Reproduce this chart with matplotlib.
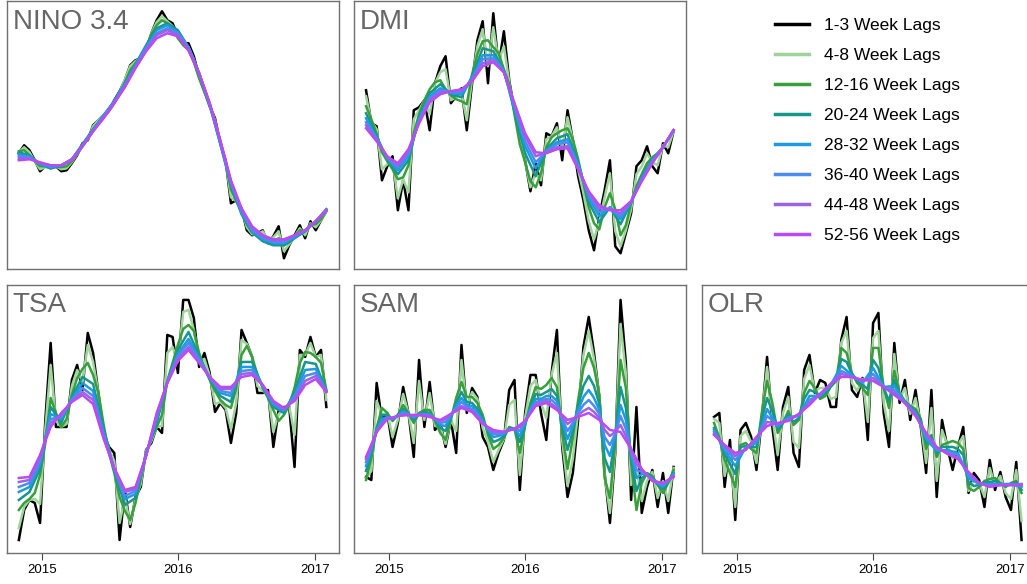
import matplotlib.pyplot as plt
from matplotlib.lines import Line2D
import pandas as pd

plt.rcParams['font.family'] = ['Liberation Sans', 'DejaVu Sans']

lag_labels = ['1-3 Week Lags', '4-8 Week Lags', '12-16 Week Lags', '20-24 Week Lags',
              '28-32 Week Lags', '36-40 Week Lags', '44-48 Week Lags', '52-56 Week Lags']
lag_colors = ['#000000', '#9fd49b', '#36a03a', '#17968f',
              '#1c9be3', '#4a8cef', '#9c63e3', '#b84bf6']

first_week = '2014-11-01'
last_week = '2017-01-31'
year_ticks = ['2015-01-01', '2016-01-01', '2017-01-01']
year_labels = ['2015', '2016', '2017']

# relative index values (the figure prints no y scale)
# biweekly lists have 59 values, 4-weekly lists 30 values

# NINO 3.4
nino_w1 = [116,124,119,109,98,103,101,103,98,99,106,114,126,129,144,149,154,159,169,178,189,204,209,211,219,236,249,258,249,246,233,226,226,213,193,179,163,151,126,109,66,69,61,39,34,36,39,26,33,43,11,24,34,44,31,48,39,49,58]
nino_w4 = [117,122,117,108,100,102,102,103,100,101,107,115,125,130,143,149,154,159,168,177,190,203,208,212,221,236,247,253,248,243,232,225,222,210,192,178,163,149,127,108,72,68,60,42,35,35,38,29,32,38,18,25,33,41,34,46,42,49,58]
nino_w12 = [118,119,114,108,103,103,103,103,102,103,108,115,123,130,140,146,152,158,166,175,187,199,206,213,222,235,244,249,246,240,231,224,219,207,191,177,163,148,128,107,80,68,58,45,37,33,32,29,28,31,24,27,33,39,38,45,45,50,59]
nino_w20 = [117,114,105,101,103,110,125,140,154,168,186,205,224,241,246,239,222,196,164,125,84,55,37,28,24,24,31,38,48,60]
nino_w28 = [115,113,105,102,104,110,124,139,154,168,185,204,222,239,244,237,222,196,165,126,86,57,38,30,26,26,32,39,48,60]
nino_w36 = [113,112,106,103,104,110,123,138,153,167,184,203,221,236,241,236,221,196,165,127,87,58,40,31,27,27,33,39,48,59]
nino_w44 = [111,111,106,104,104,110,123,138,152,167,183,202,219,234,239,234,220,196,166,128,88,60,41,33,29,29,34,39,48,59]
nino_w52 = [109,110,107,104,104,109,123,138,151,166,182,201,218,231,236,233,219,196,166,129,89,61,43,34,30,30,34,39,48,59]

# DMI
dmi_w1 = [179,146,143,89,103,113,59,89,59,159,162,169,139,186,203,213,166,173,181,139,186,229,248,186,256,203,238,189,159,136,109,78,106,84,136,133,146,109,159,129,93,69,39,19,53,79,109,23,16,36,56,103,109,123,103,96,126,116,138]
dmi_w4 = [173,148,140,100,105,108,71,90,77,150,159,169,155,186,197,200,169,172,176,149,190,223,240,203,242,208,223,187,157,132,108,82,96,89,130,133,142,121,152,129,100,76,48,30,48,72,96,38,23,39,60,95,103,116,107,104,124,122,138]
dmi_w12 = [163,150,135,117,108,100,90,92,104,136,155,169,180,187,189,180,174,170,168,165,195,215,228,229,222,216,200,185,155,125,107,88,82,96,122,132,136,139,141,130,110,86,62,46,40,62,76,60,34,44,66,83,95,106,112,116,122,130,139]
dmi_w20 = [156,133,110,95,109,152,176,185,175,172,193,221,218,199,158,116,93,120,131,135,107,67,47,62,45,67,93,110,122,139]
dmi_w28 = [151,131,111,99,113,150,173,181,176,175,191,214,214,198,161,123,101,119,127,130,105,71,53,62,50,67,91,109,122,139]
dmi_w36 = [147,130,112,102,116,149,171,179,177,177,190,210,211,198,163,128,107,118,125,127,103,74,57,61,53,67,90,108,122,139]
dmi_w44 = [144,129,112,104,118,147,169,177,178,179,189,206,209,197,165,133,113,117,122,123,101,76,61,60,56,68,89,107,122,139]
dmi_w52 = [141,128,113,106,120,146,167,175,178,180,188,203,207,197,166,136,117,116,120,121,100,78,64,59,59,68,88,106,122,139]

# TSA
tsa_w1 = [13,43,53,50,30,133,210,126,126,126,173,188,163,220,200,160,120,106,100,13,63,26,56,66,103,110,126,120,218,216,180,253,253,235,186,200,180,141,150,143,110,140,223,210,196,160,160,163,106,143,146,146,86,203,196,216,196,203,146]
tsa_w4 = [25,46,53,54,49,124,188,132,126,129,167,183,171,208,191,160,123,104,92,30,55,29,54,69,102,112,126,127,200,206,191,241,243,223,192,194,177,149,151,145,124,150,213,209,196,167,162,160,121,139,143,147,118,198,198,210,196,198,153]
tsa_w12 = [43,50,54,60,78,110,155,140,126,134,158,175,184,190,178,160,128,100,80,56,42,33,50,74,100,115,126,138,172,190,208,224,228,222,200,185,173,162,153,148,145,165,198,207,196,178,165,155,143,132,138,148,165,190,201,200,196,190,163]
tsa_w20 = [53,61,84,146,130,156,176,169,124,82,48,55,99,130,171,203,221,197,174,157,151,191,191,166,146,140,161,191,189,162]
tsa_w28 = [61,66,89,139,134,154,170,162,120,83,54,59,98,134,171,199,214,195,175,160,157,186,186,167,148,142,158,183,184,162]
tsa_w36 = [66,70,92,134,136,153,165,157,118,84,57,62,98,136,171,197,210,193,175,162,160,182,183,167,150,143,156,177,180,162]
tsa_w44 = [71,73,96,130,138,152,161,153,116,84,61,64,97,138,170,194,206,191,176,164,164,179,180,168,151,144,154,172,177,161]
tsa_w52 = [75,76,98,126,140,151,158,149,114,85,63,66,97,140,170,192,203,190,176,166,166,176,178,168,152,145,152,168,174,161]

# SAM
sam_w1 = [76,73,170,133,140,106,130,166,140,96,193,126,171,123,130,106,133,100,208,140,165,156,116,106,83,100,113,163,173,63,140,178,178,140,113,180,223,106,56,80,133,206,236,200,156,80,30,100,253,190,53,146,40,66,83,46,80,40,86]
sam_w4 = [75,82,152,138,140,116,133,159,140,110,172,133,160,127,126,109,133,122,193,146,161,154,125,111,91,103,114,148,153,78,135,167,173,150,135,178,200,112,67,94,141,198,222,194,157,78,40,104,229,180,68,85,52,72,81,55,72,52,85]
sam_w12 = [73,95,125,145,140,132,138,148,140,130,140,143,143,132,120,113,133,155,171,156,156,150,138,118,104,108,115,126,124,100,127,150,166,164,168,175,166,120,84,115,153,185,200,185,158,75,55,110,193,165,90,43,70,80,77,68,60,70,83]
sam_w20 = [82,100,124,138,138,133,138,144,139,133,139,141,140,133,125,122,135,150,161,151,150,144,135,121,111,113,117,125,124,111,129,146,159,158,161,164,157,127,103,122,147,167,177,167,149,95,81,115,166,145,95,62,75,79,75,69,64,71,80]
sam_w28 = [87,103,123,134,136,134,137,142,139,135,139,139,139,134,128,127,137,147,155,148,147,141,132,123,116,117,119,124,124,117,130,144,154,154,157,157,152,131,114,127,143,156,163,155,143,108,97,117,148,133,99,75,79,79,74,70,66,72,79]
sam_w36 = [91,106,122,131,135,135,137,140,138,136,138,138,138,134,130,131,138,145,151,146,144,138,131,124,119,119,120,123,124,122,131,142,151,152,154,153,148,134,122,130,140,148,153,147,139,116,108,119,137,124,101,83,81,78,73,70,68,72,78]
sam_w44 = [94,107,121,129,135,135,137,138,138,137,138,138,137,134,132,134,139,143,147,144,142,136,130,125,121,121,121,123,124,126,132,140,149,150,152,149,145,136,129,133,138,142,145,141,135,123,117,121,128,117,103,89,83,78,73,71,69,73,77]
sam_w52 = [96,121,134,137,138,138,136,133,139,145,141,129,123,121,124,132,147,150,143,133,136,140,133,123,121,104,84,72,70,76]

# OLR
olr_w1 = [136,140,66,113,33,123,130,116,83,133,196,126,83,146,166,100,86,183,198,160,173,170,146,146,213,236,163,156,175,113,230,240,140,106,210,150,173,133,163,126,80,163,56,133,106,83,106,126,60,80,73,46,93,63,81,56,43,91,13]
olr_w4 = [134,130,77,100,46,117,122,111,90,136,186,136,98,140,156,111,105,174,188,162,165,165,154,156,210,222,170,162,174,131,215,222,150,122,199,154,165,139,155,129,90,145,72,123,108,95,108,117,62,73,70,56,85,68,77,60,54,83,32]
olr_w12 = [130,115,93,80,66,108,110,104,100,140,172,150,120,130,142,128,133,160,172,165,154,157,166,172,205,200,180,170,165,158,205,205,165,145,182,160,152,147,144,134,104,118,96,108,110,112,110,104,65,62,66,72,74,75,70,66,70,72,60]
olr_w20 = [125,114,99,89,79,106,107,106,106,133,155,142,124,130,138,131,135,154,163,161,156,160,167,172,194,191,179,172,168,164,193,185,165,152,173,158,151,146,141,132,110,116,100,106,106,106,104,98,71,67,68,71,71,72,69,67,69,71,63]
olr_w28 = [123,102,87,106,110,144,126,136,137,157,157,168,187,178,170,185,166,167,151,140,114,102,103,100,75,69,69,69,69,66]
olr_w36 = [121,105,93,105,113,137,128,134,138,153,158,168,182,177,171,179,166,163,150,139,117,104,101,98,78,69,68,68,68,67]
olr_w44 = [119,107,97,104,115,131,129,133,139,150,159,169,179,176,172,175,166,160,150,138,119,105,100,95,80,70,67,68,68,68]
olr_w52 = [118,108,100,103,116,127,130,132,139,148,159,169,176,176,173,172,166,158,150,137,120,106,99,94,81,70,66,68,68,69]

panels = [
    ('NINO 3.4', [nino_w1, nino_w4, nino_w12, nino_w20, nino_w28, nino_w36, nino_w44, nino_w52]),
    ('DMI', [dmi_w1, dmi_w4, dmi_w12, dmi_w20, dmi_w28, dmi_w36, dmi_w44, dmi_w52]),
    ('TSA', [tsa_w1, tsa_w4, tsa_w12, tsa_w20, tsa_w28, tsa_w36, tsa_w44, tsa_w52]),
    ('SAM', [sam_w1, sam_w4, sam_w12, sam_w20, sam_w28, sam_w36, sam_w44, sam_w52]),
    ('OLR', [olr_w1, olr_w4, olr_w12, olr_w20, olr_w28, olr_w36, olr_w44, olr_w52]),
]

# panel boxes: left edge in pixels, bottom as figure fraction
W, H = 1027, 584
boxes = [(6.5, 0.5389), (353.7, 0.5389), (6.5, 0.0531), (353.7, 0.0531), (701.7, 0.0531)]
box_w = 332.2 / W
box_h = 0.459

fig = plt.figure(figsize=(W / 100, H / 100), dpi=100)

for (name, series), (left, bottom) in zip(panels, boxes):
    ax = fig.add_axes([left / W, bottom, box_w, box_h])
    for vals, col in zip(series, lag_colors):
        x = pd.date_range(first_week, last_week, periods=len(vals))
        ax.plot(x, vals, color=col, lw=1.8, solid_joinstyle='round')
    ax.set_xlim(pd.Timestamp('2014-09-29'), pd.Timestamp('2017-03-05'))
    ax.set_ylim(0, 268)
    ax.set_yticks([])
    for s in ax.spines.values():
        s.set_color('#707070')
        s.set_linewidth(1.0)
    if bottom < 0.5:
        ax.set_xticks(pd.to_datetime(year_ticks))
        ax.set_xticklabels(year_labels, fontsize=9.5)
        ax.tick_params(axis='x', length=5, width=0.8, color='#444444', pad=3)
    else:
        ax.set_xticks([])
    ax.text(0.019, 0.972, name, transform=ax.transAxes, ha='left', va='top',
            fontsize=20, color='#666666')

handles = [Line2D([], [], color=c, lw=2.5) for c in lag_colors]
fig.legend(handles, lag_labels, loc='upper left', bbox_to_anchor=(774.5 / W, 0.97),
           frameon=False, fontsize=12.5, handlelength=2.0, handletextpad=0.85,
           labelspacing=0.86, borderpad=0, borderaxespad=0)

fig.savefig('out.png', dpi=100)
